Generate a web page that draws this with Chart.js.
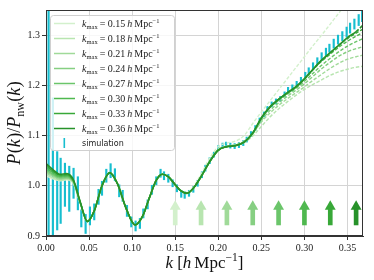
<!DOCTYPE html>
<html lang="en">
<head>
    <meta charset="UTF-8">
    <title>P(k)/Pnw(k)</title>
    <style>
        body { margin: 0; background: #fff; }
        #wrap { width: 374px; height: 280px; }
    </style>
</head>
<body>
    <div id="wrap"><canvas id="pkChart" width="374" height="280"></canvas></div>

    <script src="https://cdn.jsdelivr.net/npm/chart.js"></script>
    <script>
        // model curves, one per k_max, sampled on a shared k grid
        const kGrid = [0, 0.008, 0.016, 0.024, 0.032, 0.04, 0.048, 0.056, 0.065, 0.074, 0.083, 0.093, 0.1035, 0.112, 0.12, 0.128, 0.135, 0.142, 0.15, 0.1565, 0.1636, 0.171, 0.18, 0.19, 0.2, 0.21, 0.22, 0.23, 0.24, 0.25, 0.26, 0.27, 0.28, 0.29, 0.3, 0.31, 0.32, 0.33, 0.34, 0.35, 0.36, 0.368];
        const kmaxList = [0.15, 0.18, 0.21, 0.24, 0.27, 0.30, 0.33, 0.36];

        const model15 = [1.020, 1.014, 1.010, 1.012, 1.004, 0.963, 0.929, 0.950, 1.000, 1.026, 1.004, 0.955, 0.922, 0.939, 0.976, 1.011, 1.023, 1.018, 1.002, 0.991, 0.987, 0.998, 1.023, 1.055, 1.078, 1.085, 1.089, 1.100, 1.124, 1.147, 1.169, 1.191, 1.213, 1.235, 1.257, 1.279, 1.300, 1.322, 1.344, 1.365, 1.387, 1.404];
        const model18 = [1.023, 1.016, 1.011, 1.013, 1.005, 0.964, 0.929, 0.950, 1.000, 1.026, 1.004, 0.955, 0.922, 0.939, 0.976, 1.011, 1.023, 1.018, 1.002, 0.990, 0.985, 0.995, 1.019, 1.050, 1.073, 1.079, 1.081, 1.086, 1.099, 1.118, 1.137, 1.153, 1.167, 1.180, 1.192, 1.202, 1.211, 1.220, 1.227, 1.232, 1.236, 1.238];
        const model21 = [1.026, 1.019, 1.013, 1.015, 1.006, 0.964, 0.929, 0.950, 1.000, 1.026, 1.004, 0.955, 0.922, 0.939, 0.976, 1.011, 1.023, 1.018, 1.002, 0.990, 0.985, 0.995, 1.018, 1.048, 1.071, 1.079, 1.082, 1.089, 1.104, 1.127, 1.145, 1.160, 1.173, 1.185, 1.197, 1.210, 1.222, 1.234, 1.244, 1.252, 1.257, 1.260];
        const model24 = [1.029, 1.021, 1.015, 1.016, 1.007, 0.965, 0.929, 0.950, 1.000, 1.026, 1.004, 0.955, 0.922, 0.939, 0.976, 1.011, 1.023, 1.018, 1.002, 0.990, 0.985, 0.995, 1.018, 1.048, 1.071, 1.078, 1.080, 1.087, 1.103, 1.130, 1.150, 1.165, 1.178, 1.190, 1.203, 1.218, 1.233, 1.246, 1.258, 1.267, 1.273, 1.277];
        const model27 = [1.032, 1.023, 1.017, 1.018, 1.008, 0.965, 0.929, 0.950, 1.000, 1.026, 1.004, 0.955, 0.922, 0.939, 0.976, 1.011, 1.023, 1.018, 1.002, 0.990, 0.985, 0.995, 1.018, 1.048, 1.071, 1.078, 1.080, 1.087, 1.105, 1.134, 1.156, 1.170, 1.182, 1.194, 1.208, 1.224, 1.240, 1.254, 1.267, 1.278, 1.287, 1.293];
        const model30 = [1.036, 1.026, 1.019, 1.020, 1.009, 0.966, 0.929, 0.950, 1.000, 1.026, 1.004, 0.955, 0.922, 0.939, 0.976, 1.011, 1.023, 1.018, 1.002, 0.990, 0.985, 0.995, 1.018, 1.048, 1.071, 1.078, 1.080, 1.087, 1.105, 1.135, 1.157, 1.172, 1.184, 1.196, 1.212, 1.231, 1.248, 1.262, 1.276, 1.288, 1.298, 1.305];
        const model33 = [1.040, 1.029, 1.021, 1.022, 1.010, 0.966, 0.929, 0.950, 1.000, 1.026, 1.004, 0.955, 0.922, 0.939, 0.976, 1.011, 1.023, 1.018, 1.002, 0.990, 0.985, 0.995, 1.018, 1.048, 1.071, 1.078, 1.080, 1.087, 1.105, 1.135, 1.157, 1.172, 1.185, 1.197, 1.213, 1.232, 1.250, 1.265, 1.280, 1.293, 1.304, 1.312];
        const model36 = [1.044, 1.032, 1.023, 1.024, 1.011, 0.966, 0.929, 0.950, 1.000, 1.026, 1.004, 0.955, 0.922, 0.939, 0.976, 1.011, 1.023, 1.018, 1.002, 0.990, 0.985, 0.995, 1.018, 1.048, 1.071, 1.078, 1.080, 1.087, 1.105, 1.135, 1.157, 1.172, 1.185, 1.197, 1.213, 1.232, 1.250, 1.265, 1.280, 1.295, 1.307, 1.320];
        const models = [model15, model18, model21, model24, model27, model30, model33, model36];

        // simulation points with errors
        const simK = [0.003, 0.008, 0.013, 0.017, 0.022, 0.027, 0.032, 0.037, 0.041, 0.046, 0.051, 0.056, 0.061, 0.065, 0.070, 0.075, 0.080, 0.085, 0.089, 0.094, 0.099, 0.104, 0.109, 0.113, 0.118, 0.123, 0.128, 0.133, 0.137, 0.142, 0.147, 0.152, 0.157, 0.161, 0.166, 0.171, 0.176, 0.181, 0.185, 0.190, 0.195, 0.200, 0.205, 0.209, 0.214, 0.219, 0.224, 0.229, 0.233, 0.238, 0.243, 0.248, 0.253, 0.257, 0.262, 0.267, 0.272, 0.277, 0.281, 0.286, 0.291, 0.296, 0.301, 0.305, 0.310, 0.315, 0.320, 0.325, 0.329, 0.334, 0.339, 0.344, 0.349, 0.353, 0.358, 0.363, 0.367];
        const simMean = [1.05, 1.03, 0.99, 0.99, 1.002, 0.994, 1.005, 0.985, 0.935, 0.924, 0.940, 0.948, 0.978, 0.995, 1.020, 1.030, 1.022, 0.990, 0.980, 0.950, 0.928, 0.920, 0.925, 0.945, 0.963, 0.992, 1.010, 1.025, 1.020, 1.015, 1.005, 0.995, 0.984, 0.982, 0.985, 0.993, 1.005, 1.022, 1.035, 1.050, 1.062, 1.075, 1.080, 1.082, 1.080, 1.079, 1.081, 1.085, 1.092, 1.103, 1.115, 1.130, 1.142, 1.153, 1.162, 1.168, 1.173, 1.182, 1.190, 1.195, 1.202, 1.210, 1.220, 1.228, 1.238, 1.248, 1.257, 1.266, 1.274, 1.283, 1.291, 1.298, 1.306, 1.314, 1.322, 1.330, 1.338];
        const simErr = [0.35, 0.145, 0.078, 0.065, 0.043, 0.045, 0.030, 0.033, 0.017, 0.019, 0.018, 0.016, 0.015, 0.014, 0.013, 0.014, 0.012, 0.012, 0.011, 0.011, 0.010, 0.010, 0.010, 0.009, 0.009, 0.009, 0.008, 0.008, 0.008, 0.008, 0.007, 0.007, 0.007, 0.007, 0.006, 0.006, 0.006, 0.006, 0.006, 0.006, 0.005, 0.005, 0.005, 0.005, 0.005, 0.005, 0.005, 0.005, 0.005, 0.005, 0.005, 0.005, 0.005, 0.005, 0.005, 0.005, 0.005, 0.005, 0.006, 0.006, 0.006, 0.006, 0.006, 0.007, 0.007, 0.007, 0.008, 0.008, 0.008, 0.009, 0.009, 0.009, 0.010, 0.010, 0.010, 0.011, 0.011];

        const xTicks = [0, 0.05, 0.10, 0.15, 0.20, 0.25, 0.30, 0.35];
        const yTicks = [0.9, 1.0, 1.1, 1.2, 1.3];

        // arrows marking each k_max
        const arrowBase = 0.922, arrowShaftTop = 0.954, arrowHeadY = 0.9584;

        const greens = ['#d3f0cc', '#b8e5b0', '#a0da99', '#86cf82', '#6bc56a', '#4fb84f', '#38a838', '#27922a'];
        const simColor = '#17becf';
        const serif = '"Liberation Serif", "DejaVu Serif", serif';

        const lineSets = models.map((vals, i) => ({
            type: 'line',
            label: 'kmax ' + kmaxList[i],
            data: kGrid.map((k, j) => ({ x: k, y: vals[j] })),
            borderColor: greens[i],
            borderWidth: i === 7 ? 1.7 : 1.4,
            pointRadius: 0,
            fill: false,
            cubicInterpolationMode: 'monotone',
            order: 20 - i,
            segment: {
                borderDash: ctx => ctx.p0.parsed.x >= kmaxList[i] - 1e-6 ? [3.5, 1.8] : undefined
            }
        }));

        const simSet = {
            type: 'bar',
            label: 'simulation',
            data: simK.map((k, i) => ({ x: k, y: [simMean[i] - simErr[i], simMean[i] + simErr[i]] })),
            backgroundColor: simColor,
            barThickness: 1.5,
            grouped: false,
            order: 40
        };

        const shaftSet = {
            type: 'bar',
            label: 'arrow shaft',
            data: kmaxList.map(k => ({ x: k, y: [arrowBase, arrowShaftTop] })),
            backgroundColor: greens,
            barThickness: 4,
            grouped: false,
            order: 30
        };

        const headSet = {
            type: 'scatter',
            label: 'arrow head',
            data: kmaxList.map(k => ({ x: k, y: arrowHeadY })),
            pointStyle: 'triangle',
            pointRadius: 6.3,
            pointHoverRadius: 6.3,
            backgroundColor: greens,
            borderWidth: 0,
            order: 30
        };

        // draw text made of pieces (italic, sub/superscript)
        function drawParts(ctx, x, y, parts, measureOnly) {
            let cx = x;
            parts.forEach(p => {
                ctx.font = p.f;
                if (!measureOnly) ctx.fillText(p.t, cx, y + (p.dy || 0));
                cx += ctx.measureText(p.t).width + (p.gap || 0);
            });
            return cx - x;
        }

        function kmaxParts(km) {
            return [
                { t: 'k', f: 'italic 10px ' + serif },
                { t: 'max', f: '6.5px ' + serif, dy: 2.2, gap: 2 },
                { t: '=', f: '10px ' + serif, gap: 2.5 },
                { t: km.toFixed(2), f: '10px ' + serif, gap: 2 },
                { t: 'h', f: 'italic 10px ' + serif, gap: 2 },
                { t: 'Mpc', f: '10px ' + serif },
                { t: '\u22121', f: '6.5px ' + serif, dy: -4 }
            ];
        }

        const decorPlugin = {
            id: 'decor',
            afterDatasetsDraw(chart) {
                const ctx = chart.ctx;
                ctx.save();
                // legend box
                ctx.beginPath();
                ctx.roundRect(50.5, 15.5, 124, 135, 3);
                ctx.fillStyle = 'rgba(255,255,255,0.8)';
                ctx.fill();
                ctx.strokeStyle = '#d0d0d0';
                ctx.lineWidth = 1;
                ctx.stroke();

                ctx.textBaseline = 'alphabetic';
                ctx.textAlign = 'left';
                kmaxList.forEach((km, i) => {
                    const y = 23.5 + 15 * i;
                    ctx.strokeStyle = greens[i];
                    ctx.lineWidth = 1.5;
                    ctx.beginPath();
                    ctx.moveTo(54, y);
                    ctx.lineTo(75, y);
                    ctx.stroke();
                    ctx.fillStyle = '#222';
                    drawParts(ctx, 82, y + 3.5, kmaxParts(km));
                });
                ctx.fillStyle = simColor;
                ctx.fillRect(63.5, 138, 1.6, 10);
                ctx.fillStyle = '#222';
                ctx.font = '8px "DejaVu Sans", sans-serif';
                ctx.fillText('simulation', 82, 146);
                ctx.restore();
            },
            afterDraw(chart) {
                const ctx = chart.ctx;
                const a = chart.chartArea;
                ctx.save();
                ctx.strokeStyle = '#333';
                ctx.lineWidth = 1;
                ctx.strokeRect(Math.round(a.left) + 0.5, Math.round(a.top) + 0.5, Math.round(a.right - a.left) - 1, Math.round(a.bottom - a.top) - 1);

                ctx.fillStyle = '#111';
                ctx.textBaseline = 'alphabetic';
                ctx.textAlign = 'left';
                // x axis title
                const xParts = [
                    { t: 'k', f: 'italic 17px ' + serif, gap: 4 },
                    { t: '[', f: '17px ' + serif },
                    { t: 'h', f: 'italic 17px ' + serif, gap: 3 },
                    { t: 'Mpc', f: '17px ' + serif },
                    { t: '\u22121', f: '11.5px ' + serif, dy: -7 },
                    { t: ']', f: '17px ' + serif }
                ];
                const xw = drawParts(ctx, 0, 0, xParts, true);
                drawParts(ctx, (a.left + a.right) / 2 - xw / 2, 268, xParts);

                // y axis title
                const yParts = [
                    { t: 'P', f: 'italic 18px ' + serif, gap: 0.5 },
                    { t: '(', f: '18px ' + serif },
                    { t: 'k', f: 'italic 18px ' + serif, gap: 0.5 },
                    { t: ')/', f: '18px ' + serif },
                    { t: 'P', f: 'italic 18px ' + serif },
                    { t: 'nw', f: '12px ' + serif, dy: 3.5, gap: 0.5 },
                    { t: '(', f: '18px ' + serif },
                    { t: 'k', f: 'italic 18px ' + serif, gap: 0.5 },
                    { t: ')', f: '18px ' + serif }
                ];
                const yw = drawParts(ctx, 0, 0, yParts, true);
                ctx.translate(20, (a.top + a.bottom) / 2);
                ctx.rotate(-Math.PI / 2);
                drawParts(ctx, -yw / 2, 0, yParts);
                ctx.restore();
            }
        };

        const tickFont = { family: serif, size: 10 };

        new Chart(document.getElementById('pkChart'), {
            data: { datasets: [...lineSets, shaftSet, headSet, simSet] },
            options: {
                responsive: false,
                animation: false,
                devicePixelRatio: 1,
                layout: { padding: { top: 10, right: 11, left: 0, bottom: 0 } },
                plugins: { legend: { display: false }, tooltip: { enabled: false } },
                scales: {
                    x: {
                        type: 'linear',
                        position: 'bottom',
                        min: 0,
                        max: 0.368,
                        offset: false,
                        afterBuildTicks: s => { s.ticks = xTicks.map(v => ({ value: v })); },
                        afterFit: s => { s.height = 44; },
                        grid: { color: '#d4d4d4', lineWidth: 1, tickLength: 4, tickColor: '#333', offset: false },
                        border: { color: '#333', width: 1 },
                        ticks: { font: tickFont, color: '#222', padding: 2, maxRotation: 0, callback: v => v.toFixed(2) }
                    },
                    y: {
                        type: 'linear',
                        min: 0.9,
                        max: 1.35,
                        afterBuildTicks: s => { s.ticks = yTicks.map(v => ({ value: v })); },
                        afterFit: s => { s.width = 46; },
                        grid: { color: '#d4d4d4', lineWidth: 1, tickLength: 4, tickColor: '#333' },
                        border: { color: '#333', width: 1 },
                        ticks: { font: tickFont, color: '#222', padding: 2, callback: v => v.toFixed(1) }
                    }
                }
            },
            plugins: [decorPlugin]
        });
    </script>
</body>
</html>
